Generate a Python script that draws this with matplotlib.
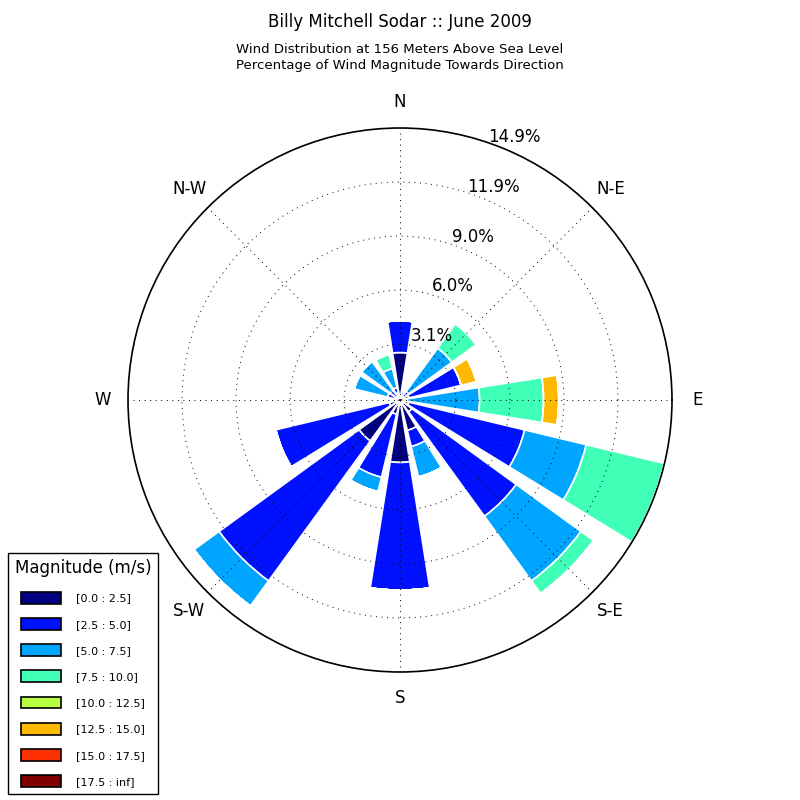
import numpy as np
import matplotlib
matplotlib.use("Agg")
import matplotlib.pyplot as plt
from matplotlib.transforms import ScaledTranslation


# Direction sectors (degrees, counterclockwise from East) and their labels
angles = [0, 22.5, 45, 67.5, 90, 112.5, 135, 157.5,
          180, 202.5, 225, 247.5, 270, 292.5, 315, 337.5]
dir_labels = ["E", "N-E", "N", "N-W", "W", "S-W", "S", "S-E"]

# Speed bins (m/s)
bin_labels = ["[0.0 : 2.5]", "[2.5 : 5.0]", "[5.0 : 7.5]", "[7.5 : 10.0]",
              "[10.0 : 12.5]", "[12.5 : 15.0]", "[15.0 : 17.5]", "[17.5 : inf]"]

# Percentage of observations per speed bin, one list per direction
# (bins as above, trailing empty bins omitted)
freq_E = [0.15, 0.25, 3.96, 3.51, 0.0, 0.83]
freq_ENE = [0.5, 2.94, 0.0, 0.0, 0.0, 0.87]
freq_NE = [0.2, 0.4, 2.91, 1.66]
freq_NNE = [0.3, 0.2]
freq_N = [2.6, 1.75]
freq_NNW = [0.4, 0.3, 1.07, 0.8]
freq_NW = [0.25, 0.4, 1.96]
freq_WNW = [0.2, 0.5, 1.88]
freq_W = [0.15]
freq_WSW = [0.6, 6.4]
freq_SW = [2.77, 9.48, 1.7]
freq_SSW = [0.8, 3.55, 0.82]
freq_S = [3.42, 7.0]
freq_SSE = [1.71, 0.91, 1.72]
freq_SE = [0.8, 7.07, 4.38, 0.86]
freq_ESE = [0.5, 6.52, 3.47, 4.41]

freqs = [freq_E, freq_ENE, freq_NE, freq_NNE, freq_N, freq_NNW, freq_NW, freq_WNW,
         freq_W, freq_WSW, freq_SW, freq_SSW, freq_S, freq_SSE, freq_SE, freq_ESE]

nbins = len(bin_labels)
table = np.zeros((nbins, len(angles)))
for j, f in enumerate(freqs):
    table[:len(f), j] = f

colors = plt.cm.jet(np.linspace(0, 1, nbins))

fig = plt.figure(figsize=(8, 8), dpi=100)
ax = fig.add_axes([0.16, 0.16, 0.68, 0.68], projection="polar")

theta = np.radians(angles)
width = 0.8 * 2 * np.pi / len(angles)
offset = np.zeros(len(angles))
for i in range(nbins):
    ax.bar(theta, table[i], width=width, bottom=offset, color=colors[i],
           edgecolor="white", linewidth=1.2, label=bin_labels[i], zorder=1)
    offset += table[i]

# Radial scale like the windrose default: 5 rings up to the largest total
rmax = offset.max()
ax.set_ylim(0, rmax)
radii = np.linspace(0.1, rmax, 6)
ax.set_rgrids(radii, labels=[""] * len(radii))
shift = ax.transData + ScaledTranslation(0.105, 0.12, fig.dpi_scale_trans)
for r in radii[1:]:
    ax.text(np.radians(67.5), r, "%.1f%%" % r, transform=shift,
            ha="center", va="center", fontsize=12)

ax.set_thetagrids(np.arange(0, 360, 45), labels=dir_labels, fontsize=12)
ax.tick_params(axis="x", pad=8)
ax.grid(True, color="black", linestyle=(0, (1, 4.7)), linewidth=0.7)
ax.spines["polar"].set_linewidth(1.2)

fig.text(0.5, 0.9725, "Billy Mitchell Sodar :: June 2009", ha="center", va="center",
         fontsize=12)
fig.text(0.5, 0.928, "Wind Distribution at 156 Meters Above Sea Level\n"
         "Percentage of Wind Magnitude Towards Direction",
         ha="center", va="center", fontsize=9.5, linespacing=1.3)

leg = fig.legend(loc="lower left", bbox_to_anchor=(0.01, 0.008), title="Magnitude (m/s)",
                 fontsize=8, title_fontsize=12, fancybox=False, framealpha=1,
                 edgecolor="black", handlelength=3.6, handleheight=1.25,
                 labelspacing=1.3, handletextpad=1.35, borderpad=0.6,
                 borderaxespad=0)
for h in leg.legend_handles:
    h.set_edgecolor("black")

fig.savefig("out.png", dpi=100)
